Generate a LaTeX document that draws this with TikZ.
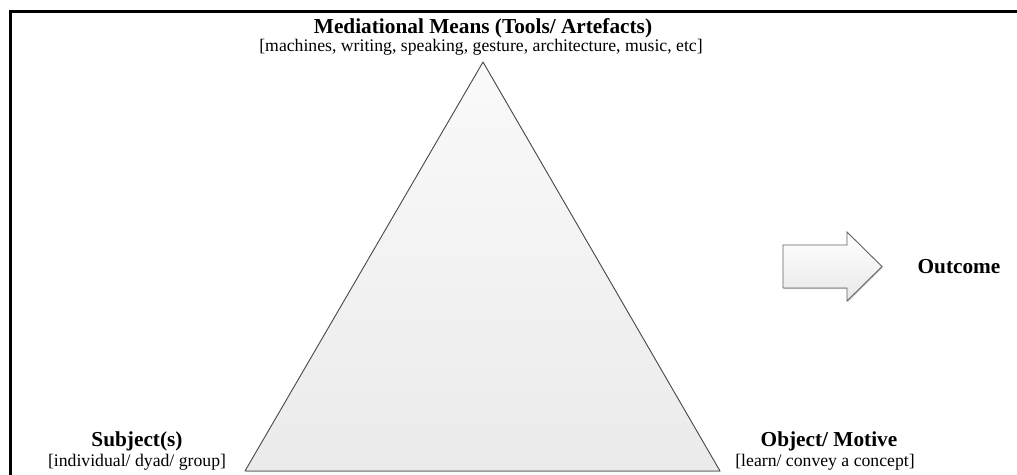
\documentclass[tikz,border=0pt]{standalone}
\usepackage{fontspec}
\setmainfont{Liberation Serif}
\usetikzlibrary{shadows}

\begin{document}
\begin{tikzpicture}[x=1pt,y=-1pt,
  heading/.style={font=\fontsize{21.3}{24}\selectfont\bfseries, inner sep=0pt},
  detail/.style={font=\fontsize{17.7}{20}\selectfont, inner sep=0pt},
  frameline/.style={line width=3pt, black},
  facet/.style={draw=black!72, line width=0.9pt, line join=round,
    top color=black!2, bottom color=black!8,
    drop shadow={shadow xshift=0.8pt, shadow yshift=-1.2pt, opacity=0.35, fill=black!60}},
  flowarrow/.style={draw=black!62, line width=0.9pt, line join=miter,
    top color=white, bottom color=black!9,
    drop shadow={shadow xshift=0.8pt, shadow yshift=-1.2pt, opacity=0.3, fill=black!60}}]

\useasboundingbox (0,0) rectangle (1017,474);
\clip (0,0) rectangle (1017,474);
\fill[white] (0,0) rectangle (1017,474);

% outer frame (only the top and left sides fall inside the page)
\draw[frameline] (10,490) -- (10,11) -- (1030,11);

% activity triangle
\coordinate (apex) at (483,62);
\coordinate (left) at (245,471);
\coordinate (right) at (720,471);
\path[facet] (apex) -- (left) -- (right) -- cycle;

% outcome arrow
\path[flowarrow] (783,245) -- (847,245) -- (847,232) -- (882,266.5)
  -- (847,301) -- (847,288) -- (783,288) -- cycle;

% labels
\node[heading, anchor=base] (means) at (483,33) {Mediational Means (Tools/ Artefacts)};
\node[detail, anchor=base] (meansx) at (481,51) {[machines, writing, speaking, gesture, architecture, music, etc]};

\node[heading, anchor=base] (subject) at (137,446) {Subject(s)};
\node[detail, anchor=base] (subjectx) at (137,466) {[individual/ dyad/ group]};

\node[heading, anchor=base] (object) at (829,446) {Object/ Motive};
\node[detail, anchor=base] (objectx) at (825,466) {[learn/ convey a concept]};

\node[heading, anchor=base] (outcome) at (959,273) {Outcome};
\end{tikzpicture}
\end{document}
